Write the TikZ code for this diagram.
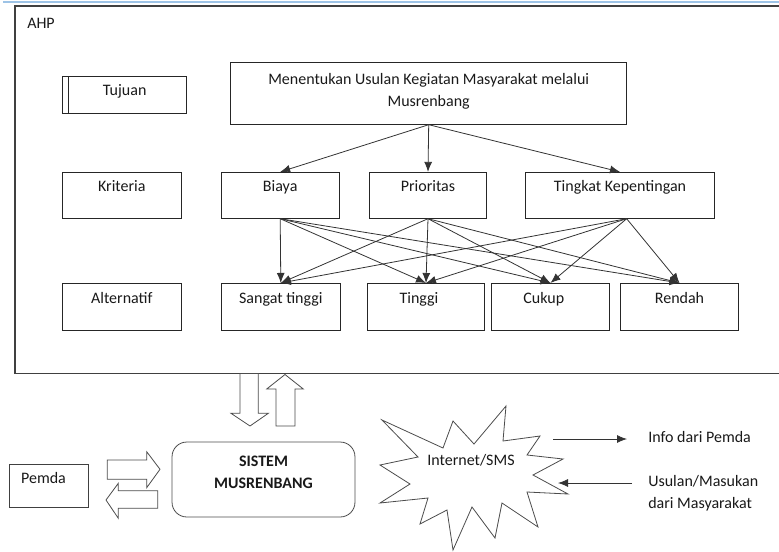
\documentclass[tikz,border=0pt]{standalone}
\usepackage{fontspec}
\setmainfont{Carlito}
\usetikzlibrary{shapes,arrows,arrows.meta,positioning}
\definecolor{garisbiru}{RGB}{157,195,230}

\tikzset{
  teks/.style={font=\fontsize{12pt}{16.3pt}\selectfont, text=black!90, inner sep=0pt},
  tebal/.style={font=\fontsize{12pt}{16pt}\selectfont\bfseries, text=black!90, inner sep=0pt},
  kotak/.style={draw=black!85, line width=0.6pt, inner sep=0pt, minimum height=34.5pt},
  judul/.style={teks, anchor=base, align=center},
  panah/.style={->, draw=black!80, line width=0.6pt},
  blok/.style={draw=black!70, fill=white, line width=0.6pt, line join=miter},
}

\begin{document}
\begin{tikzpicture}[x=0.75pt, y=-0.75pt, >={Latex[length=7.5pt,width=6pt]}]
\useasboundingbox (0,0) rectangle (779,551);
\draw[garisbiru, line width=0.8pt] (3,2) -- (779,2);
\draw[black!75, line width=0.9pt] (779,6) -- (15,6) -- (15,373.3) -- (779,373.3);
\node[teks, anchor=base west] (AHP) at (27,28.6) {AHP};
%============
\node[kotak, minimum width=93pt, minimum height=27.5pt, label={[judul, yshift=-14.5pt]north:Tujuan}] (T) at (124.7,95) {};
\draw[black!85, line width=0.6pt] ([xshift=4.2pt]T.north west) -- ([xshift=4.2pt]T.south west);
% label baris banyak: base = baris terakhir
\node[kotak, minimum width=297pt, minimum height=46.2pt, label={[judul, yshift=-33.2pt]north:{Menentukan Usulan Kegiatan Masyarakat melalui\\Musrenbang}}] (G) at (428.7,93.5) {};
%============
\node[kotak, minimum width=88.7pt, label={[judul, yshift=-14.8pt]north:Kriteria}] (K) at (121.8,195.3) {};
\node[kotak, minimum width=88.7pt, label={[judul, yshift=-14.8pt]north:Biaya}] (B) at (280.2,195.3) {};
\node[kotak, minimum width=88pt, label={[judul, yshift=-14.8pt]north:Prioritas}] (P) at (428,195.3) {};
\node[kotak, minimum width=141.5pt, label={[judul, yshift=-14.8pt]north:Tingkat Kepentingan}] (TK) at (620,195.3) {};
%============
\node[kotak, minimum width=88.7pt, minimum height=35pt, label={[judul, yshift=-15.2pt]north:Alternatif}] (A) at (121.8,306.7) {};
\node[kotak, minimum width=88.7pt, minimum height=35pt, label={[judul, yshift=-15.2pt]north:Sangat tinggi}] (ST) at (280.8,306.7) {};
\node[kotak, minimum width=87.5pt, minimum height=35pt, label={[judul, yshift=-15.2pt, xshift=-5.3pt]north:Tinggi}] (TG) at (426,306.7) {};
\node[kotak, minimum width=88.2pt, minimum height=35pt, label={[judul, yshift=-15.2pt, xshift=-5pt]north:Cukup}] (C) at (550.5,306.7) {};
\node[kotak, minimum width=88.2pt, minimum height=35pt, label={[judul, yshift=-15.2pt]north:Rendah}] (R) at (679.5,306.7) {};
%============

            \draw[panah] (G.south) -- (B.north);
            \draw[panah] (G.south) -- (P.north);
            \draw[panah] (G.south) -- (TK.north);

            \draw[panah] (B.south) -- (ST.north);
            \draw[panah] (B.south) -- (TG.north);
            \draw[panah] (B.south) -- (C.north);
            \draw[panah] (B.south) -- (R.north);
            \draw[panah] (P.south) -- (ST.north);
            \draw[panah] (P.south) -- (TG.north);
            \draw[panah] (P.south) -- (C.north);
            \draw[panah] (P.south) -- (R.north);
            \draw[panah] ([xshift=5pt]TK.south) -- (ST.north);
            \draw[panah] ([xshift=5pt]TK.south) -- (TG.north);
            \draw[panah] ([xshift=5pt]TK.south) -- (C.north);
            \draw[panah] ([xshift=5pt]TK.south) -- (R.north);

%============
\node[draw=black!70, line width=0.6pt, rounded corners=11pt, minimum width=137.2pt, minimum height=56.2pt, label={[tebal, anchor=base, align=center, yshift=-35pt]north:{SISTEM\\MUSRENBANG}}] (S) at (263.5,479.5) {};
\node[kotak, draw=black!75, minimum width=59.5pt, minimum height=32.5pt, label={[judul, yshift=-14.7pt, xshift=-3.9pt]north:Pemda}] (PD) at (48.7,485.7) {};

            % panah blok
            \draw[blok] (240,373.5) -- (258.3,373.5) -- (258.3,413.3) -- (268.3,413.3) -- (250,426) -- (231,413.3) -- (240,413.3) -- cycle;
            \draw[blok] (276,426) -- (295,426) -- (295,389) -- (303.3,389) -- (285,374.5) -- (266.7,389) -- (276,389) -- cycle;
            \draw[blok] (107.3,460) -- (146.7,460) -- (146.7,451.7) -- (160,469.3) -- (146.7,487.7) -- (146.7,479.3) -- (107.3,479.3) -- cycle;
            \draw[blok] (157.7,490.7) -- (118.3,490.7) -- (118.3,483.3) -- (106,500) -- (118.3,518.3) -- (118.3,508.3) -- (157.7,508.3) -- cycle;

            % internet / sms
            \draw[blok] (380,503) -- (428,498) -- (420,524) -- (447,510) -- (453,550) -- (472,507) -- (495,538) -- (502,503) -- (538,527) -- (527,492) -- (568,494) -- (533,475) -- (563,459) -- (527,455) -- (540,436) -- (503,441) -- (506,406) -- (474,444) -- (453,421) -- (443,448) -- (382,420) -- (418,457) -- (380,465) -- (410,484) -- cycle;
\node[teks, anchor=base] (INT) at (471,465.3) {Internet/SMS};

\node[teks, anchor=base west] (INFO) at (648,442) {Info dari Pemda};
\node[teks, anchor=base west, align=left] (USL) at (648,508.3) {Usulan/Masukan\\dari Masyarakat};
\coordinate (IA) at (553,439);
\coordinate (IB) at (627,439);
\coordinate (UA) at (632,483);
\coordinate (UB) at (558,483);
            \draw[panah] (IA) -- (IB);
            \draw[panah] (UA) -- (UB);

\end{tikzpicture}
\end{document}
